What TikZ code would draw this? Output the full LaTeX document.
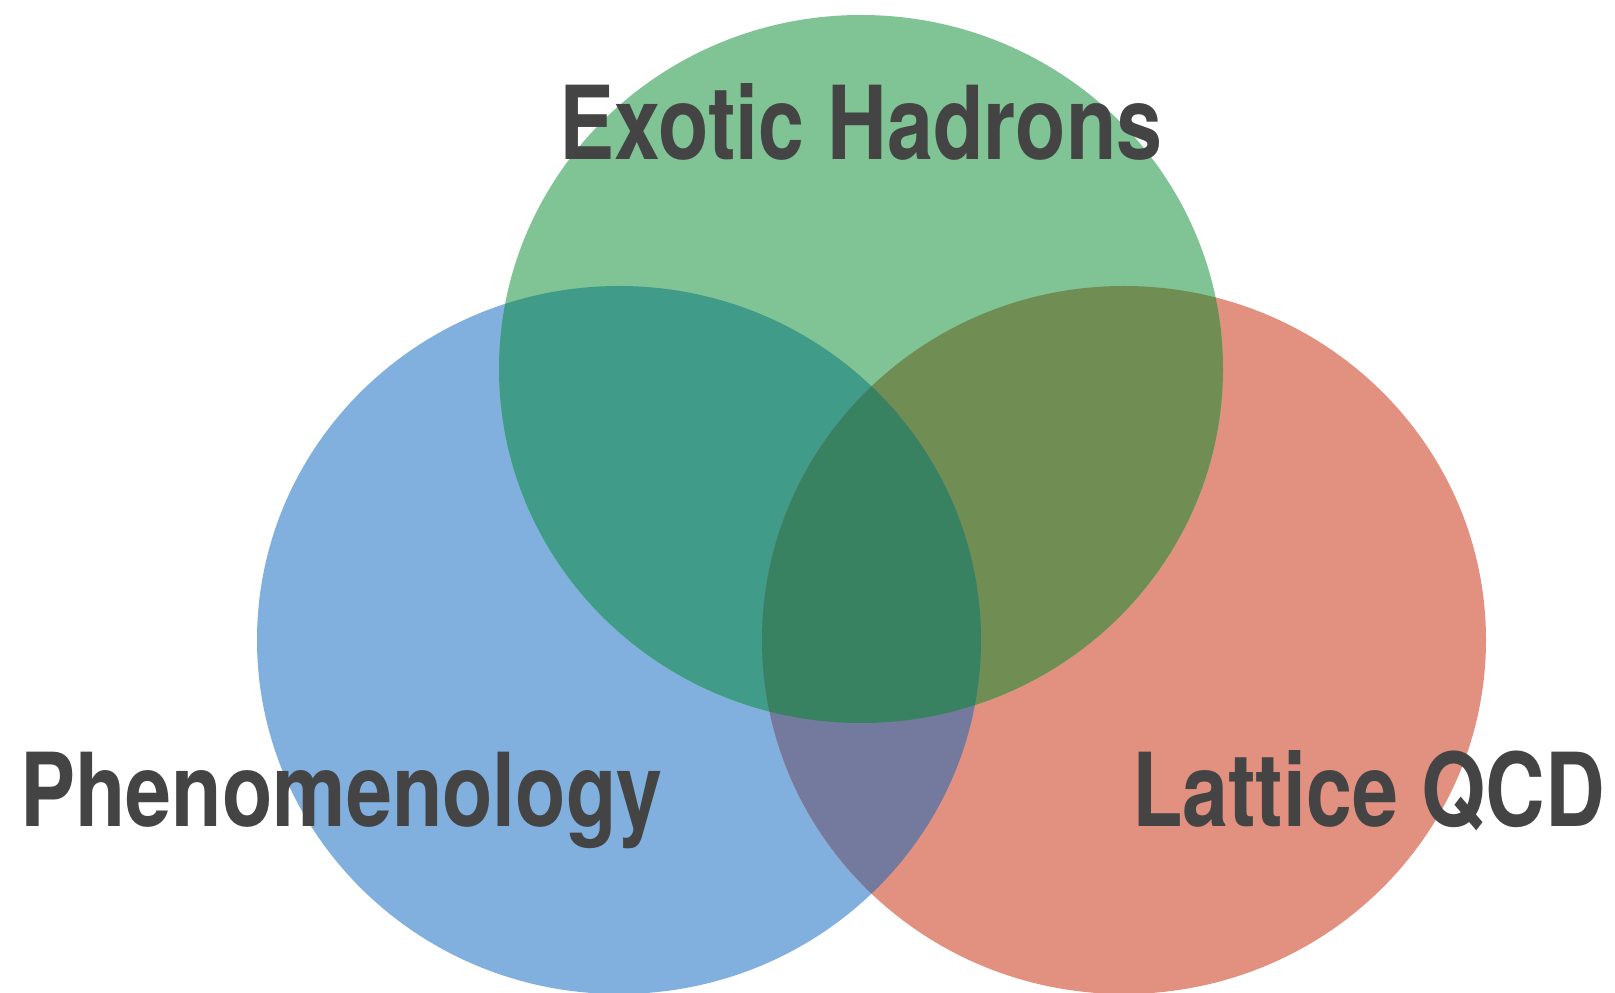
\documentclass[tikz,border=0pt]{standalone}
\usepackage{fontspec}
\setmainfont{TeX Gyre Heros}
\usetikzlibrary{positioning}
\definecolor{greenset}{RGB}{128,196,149}
\definecolor{blueset}{RGB}{129,176,222}
\definecolor{redset}{RGB}{226,145,128}
\definecolor{greenblue}{RGB}{64,156,136}
\definecolor{greenred}{RGB}{112,142,84}
\definecolor{bluered}{RGB}{115,122,158}
\definecolor{allthree}{RGB}{56,130,97}
\definecolor{labelgray}{RGB}{68,68,68}
\tikzset {setlabel/.style={inner sep=0pt,xscale=.81,text=labelgray,font=\bfseries\fontsize{102}{102}\selectfont}}

\begin{document}
\begin{tikzpicture}[x=1pt,y=1pt]
\useasboundingbox (0,0) rectangle (1615,993);
\clip (0,0) rectangle (1615,993);
\coordinate (G) at (861,624);
\coordinate (B) at (619,353);
\coordinate (R) at (1124,353);
\def\rx{362}
\def\ry{354}
\fill[blueset] (B) ellipse [x radius=\rx,y radius=\ry];
\fill[redset] (R) ellipse [x radius=\rx,y radius=\ry];
\fill[greenset] (G) ellipse [x radius=\rx,y radius=\ry];
\begin{scope}
  \clip (B) ellipse [x radius=\rx,y radius=\ry];
  \fill[greenblue] (G) ellipse [x radius=\rx,y radius=\ry];
\end{scope}
\begin{scope}
  \clip (R) ellipse [x radius=\rx,y radius=\ry];
  \fill[greenred] (G) ellipse [x radius=\rx,y radius=\ry];
\end{scope}
\begin{scope}
  \clip (B) ellipse [x radius=\rx,y radius=\ry];
  \fill[bluered] (R) ellipse [x radius=\rx,y radius=\ry];
  \clip (R) ellipse [x radius=\rx,y radius=\ry];
  \fill[allthree] (G) ellipse [x radius=\rx,y radius=\ry];
\end{scope}
\node[setlabel,anchor=base] (exotic) at (861,833) {Exotic Hadrons};
\node[setlabel,anchor=base west] (pheno) at (20,166) {Phenomenology};
\node[setlabel,anchor=base east] (lattice) at (1605,166) {Lattice QCD};
\end{tikzpicture}
\end{document}
